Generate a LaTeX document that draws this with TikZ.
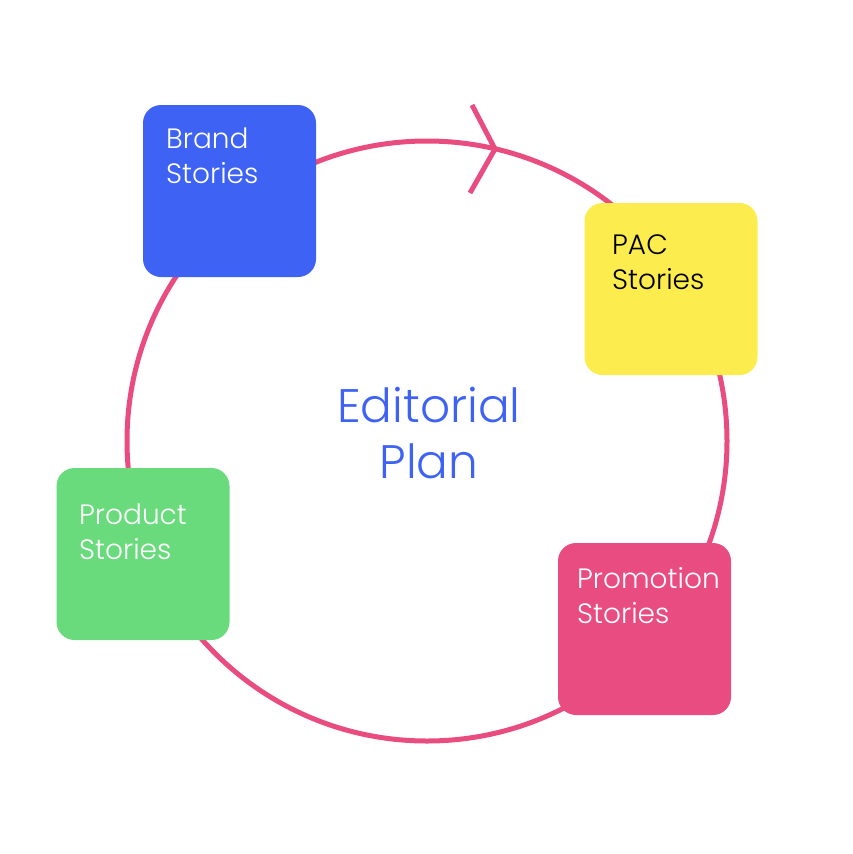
\documentclass[tikz,border=0pt]{standalone}
\usepackage{fontspec}
\setmainfont{Poppins Light}
\definecolor{ringpink}{HTML}{E94C7F}
\definecolor{brandblue}{HTML}{3D62F4}
\definecolor{pacyellow}{HTML}{FCEC4E}
\definecolor{productgreen}{HTML}{69DB7C}
\definecolor{promopink}{HTML}{E84C80}
\begin{document}
\begin{tikzpicture}[x=1pt, y=-1pt]
    % Styles
    \tikzstyle{ring} = [draw=ringpink, line width=5pt]
    \tikzstyle{card} = [rectangle, rounded corners=18pt, minimum width=173pt, minimum height=172pt, inner sep=0pt]
    \tikzstyle{cardtext} = [anchor=base west, align=left, inner sep=0pt, font=\fontsize{28}{35}\selectfont]

    \useasboundingbox (0,0) rectangle (852,854);

    % Ring and arrow
    \draw [ring] (427,441) circle [radius=300pt];
    \coordinate (tipa) at (472,105);
    \coordinate (tip) at (495,149);
    \coordinate (tipb) at (470,193);
    \draw [ring] (tipa) -- (tip) -- (tipb);

    % Cards
    \node (brand) [card, fill=brandblue] at (229.5,191) {};
    \node (pac) [card, fill=pacyellow] at (671,289) {};
    \node (product) [card, fill=productgreen] at (143,554) {};
    \node (promo) [card, fill=promopink] at (644.5,629) {};

    % Labels
    \node (brandtxt) [cardtext, text=white] at (166,183) {Brand\\Stories};
    \node (pactxt) [cardtext, text=black] at (612,289) {PAC\\Stories};
    \node (producttxt) [cardtext, text=white] at (79,559) {Product\\Stories};
    \node (promotxt) [cardtext, text=white] at (577,623) {Promotion\\Stories};

    \node (plan) [align=center, text=brandblue, font=\fontsize{47}{56}\selectfont] at (429,433) {Editorial\\Plan};
\end{tikzpicture}
\end{document}
